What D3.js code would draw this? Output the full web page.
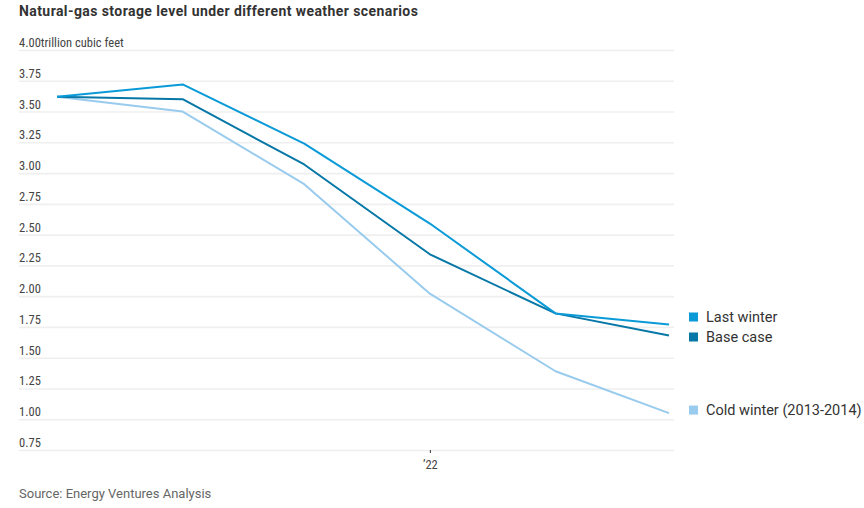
<!DOCTYPE html>
<html>
<head>
<meta charset="utf-8">
<script src="https://cdn.jsdelivr.net/npm/d3@7"></script>
<style>
  body { margin: 0; background: #fff; }
  svg { display: block; }
</style>
</head>
<body>
<svg id="chart" width="864" height="508"></svg>
<script>
const dates = ["2021-10-01", "2021-11-01", "2021-12-01", "2022-01-01", "2022-02-01", "2022-03-01"];
const lastWinter = [3.62, 3.72, 3.24, 2.59, 1.86, 1.77];
const baseCase   = [3.62, 3.60, 3.07, 2.34, 1.86, 1.68];
const coldWinter = [3.62, 3.50, 2.91, 2.02, 1.39, 1.05];
const seriesNames = ["Last winter", "Base case", "Cold winter (2013-2014)"];
const seriesColors = ["#0a9ad8", "#0677a6", "#98cbed"];
const yTicks = [0.75, 1.00, 1.25, 1.50, 1.75, 2.00, 2.25, 2.50, 2.75, 3.00, 3.25, 3.50, 3.75, 4.00];
const xTickDates = ["2022-01-01"];
const xTickLabels = ["\u201922"];

const parse = d3.timeParse("%Y-%m-%d");
const svg = d3.select("#chart");
const narrow = "'Liberation Sans Narrow', 'Roboto Condensed', Roboto, sans-serif";

const x = d3.scaleTime().domain([parse(dates[0]), parse(dates[dates.length - 1])]).range([57, 669]);
const y = d3.scaleLinear().domain([0.75, 4.0]).range([450, 50]);

// Title
svg.append("text").attr("x", 19).attr("y", 16)
  .attr("font-family", "Roboto, sans-serif").attr("font-weight", 700)
  .attr("font-size", 14).attr("letter-spacing", 0.42).attr("fill", "#333")
  .text("Natural-gas storage level under different weather scenarios");

// Grid + y labels
const yAxis = d3.axisRight(y).tickValues(yTicks).tickSize(655)
  .tickFormat((d, i) => d === 4 ? "4.00trillion cubic feet" : d3.format(".2f")(d));
const gy = svg.append("g").attr("transform", "translate(19,0)").call(yAxis);
gy.select(".domain").remove();
gy.selectAll(".tick line").attr("stroke", "#efefef").attr("stroke-width", 1.6);
gy.selectAll(".tick text").attr("x", 0).attr("dy", -3.5).attr("text-anchor", "start")
  .attr("dominant-baseline", "auto")
  .attr("font-family", narrow).attr("font-size", 12.5).attr("fill", "#444");

// x axis
const xAxis = d3.axisBottom(x).tickValues(xTickDates.map(parse)).tickSize(3)
  .tickFormat((d, i) => xTickLabels[i]);
const gx = svg.append("g").attr("transform", "translate(0,450)").call(xAxis);
gx.select(".domain").remove();
gx.selectAll(".tick line").attr("stroke", "#333");
gx.selectAll(".tick text").attr("y", 10).attr("font-family", narrow)
  .attr("font-size", 12.5).attr("fill", "#444");

// Lines
const allSeries = [lastWinter, baseCase, coldWinter];
const line = d3.line().x((d, i) => x(parse(dates[i]))).y(d => y(d));
const drawOrder = [2, 1, 0];
drawOrder.forEach(k => {
  svg.append("path").datum(allSeries[k]).attr("d", line)
    .attr("fill", "none").attr("stroke", seriesColors[k])
    .attr("stroke-width", 2).attr("stroke-linejoin", "round");
});

// Legend, dodge overlapping labels
const items = allSeries.map((s, k) => ({ k, y: y(s[s.length - 1]) - 3 }));
items.sort((a, b) => a.y - b.y);
const gap = 20;
for (let iter = 0; iter < 20; iter++) {
  for (let i = 1; i < items.length; i++) {
    const a = items[i - 1], b = items[i];
    if (b.y - a.y < gap) {
      const mid = (a.y + b.y) / 2;
      a.y = mid - gap / 2; b.y = mid + gap / 2;
    }
  }
}
const lg = svg.append("g");
items.forEach(it => {
  lg.append("rect").attr("x", 689).attr("y", it.y - 4.5).attr("width", 9).attr("height", 9)
    .attr("fill", seriesColors[it.k]);
  lg.append("text").attr("x", 706).attr("y", it.y).attr("dy", "0.35em")
    .attr("font-family", "Roboto, sans-serif").attr("font-size", 14.5).attr("fill", "#333")
    .text(seriesNames[it.k]);
});

// Source
svg.append("text").attr("x", 19).attr("y", 498)
  .attr("font-family", "Roboto, sans-serif").attr("font-size", 13).attr("fill", "#666")
  .text("Source: Energy Ventures Analysis");
</script>
</body>
</html>
